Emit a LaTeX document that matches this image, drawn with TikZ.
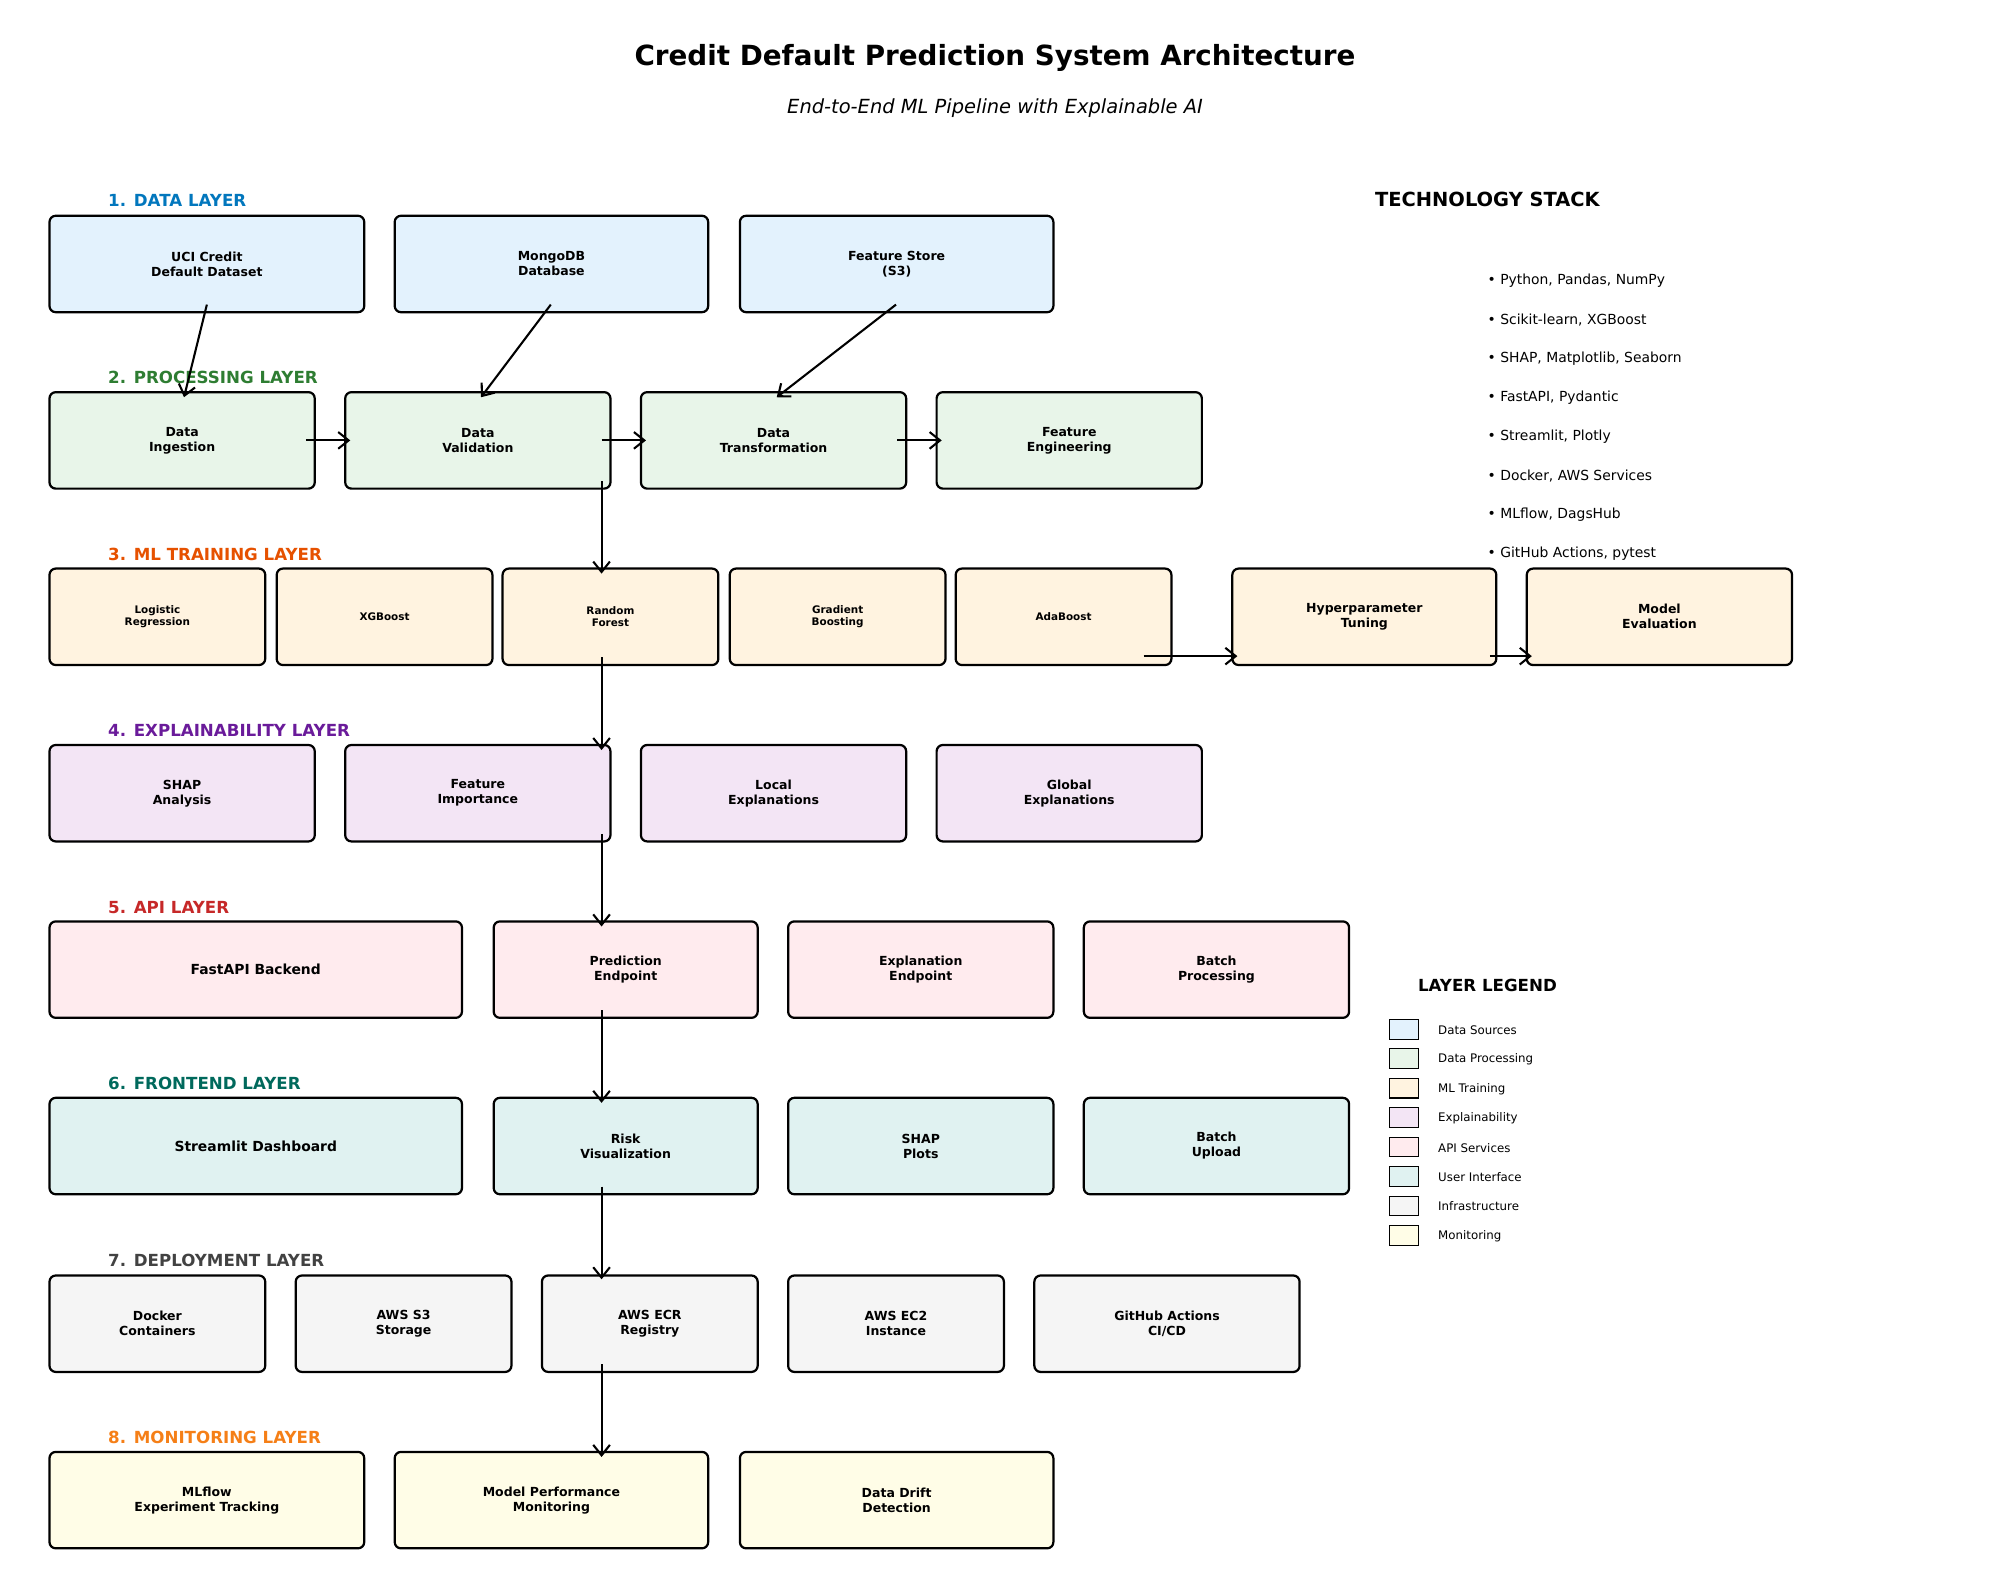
\documentclass[tikz,border=0pt]{standalone}
\usepackage{fontspec}
\setmainfont{DejaVu Sans}
\usetikzlibrary{arrows.meta}
\definecolor{cData}{HTML}{E3F2FD}
\definecolor{cProc}{HTML}{E8F5E9}
\definecolor{cML}{HTML}{FFF3E0}
\definecolor{cExpl}{HTML}{F3E5F5}
\definecolor{cAPI}{HTML}{FFEBEE}
\definecolor{cFE}{HTML}{E0F2F1}
\definecolor{cDep}{HTML}{F5F5F5}
\definecolor{cMon}{HTML}{FFFDE7}
\definecolor{lData}{HTML}{0277BD}
\definecolor{lProc}{HTML}{2E7D32}
\definecolor{lML}{HTML}{E65100}
\definecolor{lExpl}{HTML}{6A1B9A}
\definecolor{lAPI}{HTML}{C62828}
\definecolor{lFE}{HTML}{00695C}
\definecolor{lDep}{HTML}{424242}
\definecolor{lMon}{HTML}{F57F17}
\newcommand{\bbox}[7]{%
  \node[box,fill=#6,minimum width={(#4-#2)*0.9138bp},minimum height={(#5-#3)*0.9138bp}] (#1) at ({(#2+#4)/2},{(#3+#5)/2}) {#7};}
\tikzset{
  box/.style={draw=black,line width=1.6bp,rounded corners=4.5bp,inner sep=0pt,align=center,
    font=\fontsize{9bp}{10.8bp}\selectfont\bfseries},
  small/.style={font=\fontsize{7.5bp}{9bp}\selectfont\bfseries},
  big/.style={font=\fontsize{10bp}{12bp}\selectfont\bfseries},
  layerlbl/.style={anchor=west,inner sep=0pt,font=\fontsize{12bp}{14bp}\selectfont\bfseries},
  arr/.style={-{Straight Barb[length=7.5bp,width=12bp,line width=1.5bp]},line width=1.5bp,black},
  stackitem/.style={anchor=west,inner sep=0pt,font=\fontsize{10bp}{12bp}\selectfont},
  swatch/.style={draw=black,line width=0.8bp,minimum width=23*0.9138bp,minimum height=15.5*0.9138bp,inner sep=0pt},
  legitem/.style={anchor=west,inner sep=0pt,font=\fontsize{8.5bp}{10bp}\selectfont}
}
\begin{document}
\begin{tikzpicture}[x=0.9138bp,y=-0.9138bp]
\useasboundingbox (0,0) rectangle (1568,1252);
% titles
\node[font=\fontsize{20bp}{24bp}\selectfont\bfseries] (title) at (784,46) {Credit Default Prediction System Architecture};
\node[font=\fontsize{14bp}{17bp}\selectfont\itshape] (subtitle) at (784,85) {End-to-End ML Pipeline with Explainable AI};
% layer labels
\node[layerlbl,text=lData] (L1) at (85,158) {1. DATA LAYER};
\node[layerlbl,text=lProc] (L2) at (85,297.5) {2. PROCESSING LAYER};
\node[layerlbl,text=lML] (L3) at (85,436.5) {3. ML TRAINING LAYER};
\node[layerlbl,text=lExpl] (L4) at (85,575.5) {4. EXPLAINABILITY LAYER};
\node[layerlbl,text=lAPI] (L5) at (85,715) {5. API LAYER};
\node[layerlbl,text=lFE] (L6) at (85,854) {6. FRONTEND LAYER};
\node[layerlbl,text=lDep] (L7) at (85,993) {7. DEPLOYMENT LAYER};
\node[layerlbl,text=lMon] (L8) at (85,1132.5) {8. MONITORING LAYER};
% row 1
\bbox{uci}{39}{170}{287}{246}{cData}{UCI Credit\\Default Dataset}
\bbox{mongo}{311}{170}{558}{246}{cData}{MongoDB\\Database}
\bbox{fstore}{583}{170}{830}{246}{cData}{Feature Store\\(S3)}
% row 2
\bbox{ing}{39}{309}{248}{385}{cProc}{Data\\Ingestion}
\bbox{val}{272}{309}{481}{385}{cProc}{Data\\Validation}
\bbox{trans}{505}{309}{714}{385}{cProc}{Data\\Transformation}
\bbox{feng}{738}{309}{947}{385}{cProc}{Feature\\Engineering}
% row 3
\bbox{lr}{39}{448}{209}{524}{cML,small}{Logistic\\Regression}
\bbox{xgb}{218}{448}{388}{524}{cML,small}{XGBoost}
\bbox{rf}{396}{448}{566}{524}{cML,small}{Random\\Forest}
\bbox{gb}{575}{448}{745}{524}{cML,small}{Gradient\\Boosting}
\bbox{ada}{753}{448}{923}{524}{cML,small}{AdaBoost}
\bbox{hpt}{971}{448}{1179}{524}{cML}{Hyperparameter\\Tuning}
\bbox{meval}{1203}{448}{1412}{524}{cML}{Model\\Evaluation}
% row 4
\bbox{shap}{39}{587}{248}{663}{cExpl}{SHAP\\Analysis}
\bbox{fimp}{272}{587}{481}{663}{cExpl}{Feature\\Importance}
\bbox{locx}{505}{587}{714}{663}{cExpl}{Local\\Explanations}
\bbox{glox}{738}{587}{947}{663}{cExpl}{Global\\Explanations}
% row 5
\bbox{fastapi}{39}{726}{364}{802}{cAPI,big}{FastAPI Backend}
\bbox{pred}{389}{726}{597}{802}{cAPI}{Prediction\\Endpoint}
\bbox{explep}{621}{726}{830}{802}{cAPI}{Explanation\\Endpoint}
\bbox{batchp}{854}{726}{1063}{802}{cAPI}{Batch\\Processing}
% row 6
\bbox{dash}{39}{865}{364}{941}{cFE,big}{Streamlit Dashboard}
\bbox{risk}{389}{865}{597}{941}{cFE}{Risk\\Visualization}
\bbox{shapp}{621}{865}{830}{941}{cFE}{SHAP\\Plots}
\bbox{batchu}{854}{865}{1063}{941}{cFE}{Batch\\Upload}
% row 7
\bbox{docker}{39}{1005}{209}{1081}{cDep}{Docker\\Containers}
\bbox{s3}{233}{1005}{403}{1081}{cDep}{AWS S3\\Storage}
\bbox{ecr}{427}{1005}{597}{1081}{cDep}{AWS ECR\\Registry}
\bbox{ec2}{621}{1005}{791}{1081}{cDep}{AWS EC2\\Instance}
\bbox{gha}{815}{1005}{1024}{1081}{cDep}{GitHub Actions\\CI/CD}
% row 8
\bbox{mlflow}{39}{1144}{287}{1220}{cMon}{MLflow\\Experiment Tracking}
\bbox{mperf}{311}{1144}{558}{1220}{cMon}{Model Performance\\Monitoring}
\bbox{drift}{583}{1144}{830}{1220}{cMon}{Data Drift\\Detection}
% arrow end points
\coordinate (a1s) at (163,240); \coordinate (a1e) at (145,313);
\coordinate (a2s) at (434,240); \coordinate (a2e) at (379,313);
\coordinate (a3s) at (706,240); \coordinate (a3e) at (612,313);
\coordinate (h1s) at (241,347); \coordinate (h1e) at (276,347);
\coordinate (h2s) at (474,347); \coordinate (h2e) at (509,347);
\coordinate (h3s) at (707,347); \coordinate (h3e) at (742,347);
\coordinate (v1s) at (474,379); \coordinate (v1e) at (474,452);
\coordinate (v2s) at (474,518); \coordinate (v2e) at (474,591);
\coordinate (v3s) at (474,657); \coordinate (v3e) at (474,730);
\coordinate (v4s) at (474,796); \coordinate (v4e) at (474,869);
\coordinate (v5s) at (474,935); \coordinate (v5e) at (474,1008);
\coordinate (v6s) at (474,1075); \coordinate (v6e) at (474,1148);
\coordinate (h4s) at (901,517); \coordinate (h4e) at (975,517);
\coordinate (h5s) at (1174,517); \coordinate (h5e) at (1207,517);
\foreach \a in {a1,a2,a3,h1,h2,h3,v1,v2,v3,v4,v5,v6,h4,h5}
  \draw[arr] (\a s) -- (\a e);
% technology stack
\node[font=\fontsize{14bp}{17bp}\selectfont\bfseries] (stack) at (1172,157.5) {TECHNOLOGY STACK};
\node[stackitem] (t1) at (1172,221.5) {• Python, Pandas, NumPy};
\node[stackitem] (t2) at (1172,252.2) {• Scikit-learn, XGBoost};
\node[stackitem] (t3) at (1172,282.9) {• SHAP, Matplotlib, Seaborn};
\node[stackitem] (t4) at (1172,313.6) {• FastAPI, Pydantic};
\node[stackitem] (t5) at (1172,344.3) {• Streamlit, Plotly};
\node[stackitem] (t6) at (1172,375) {• Docker, AWS Services};
\node[stackitem] (t7) at (1172,405.7) {• MLflow, DagsHub};
\node[stackitem] (t8) at (1172,436.4) {• GitHub Actions, pytest};
% legend
\node[font=\fontsize{12bp}{14bp}\selectfont\bfseries] (legend) at (1172,776.5) {LAYER LEGEND};
\foreach \i/\c/\t in {0/cData/Data Sources,1/cProc/Data Processing,2/cML/ML Training,3/cExpl/Explainability,4/cAPI/API Services,5/cFE/User Interface,6/cDep/Infrastructure,7/cMon/Monitoring}{
  \node[swatch,fill=\c] (sw\i) at (1106.5,{811+23.2*\i}) {};
  \node[legitem] (lt\i) at (1133,{811.5+23.2*\i}) {\t};
}
\end{tikzpicture}
\end{document}
